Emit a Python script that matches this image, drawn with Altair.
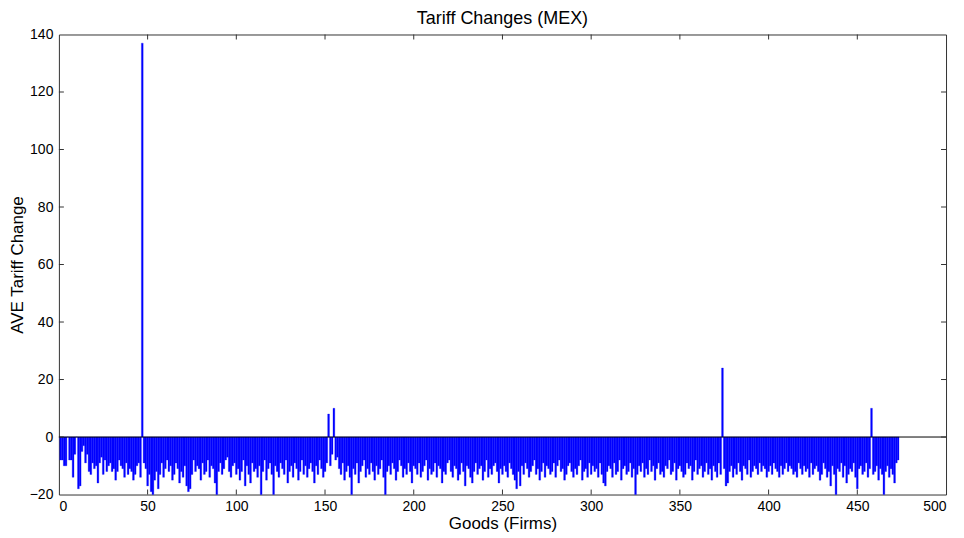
import altair as alt
import pandas as pd

changes = [
    -8, -8, -10, -10, 0, -8, -8, -14, -6, 0, -18, -17, -5, -3, -9, -6, -12, -13, -9, -11, -10, -16, -9, -7, -13,
    -8, -12, -10, -9, -12, -11, -15, -12, -8, -10, -11, -14, -9, -13, -11, -12, -15, -13, -10, -9, -14, 137, -9, -11, -17,
    -13, -19, -20, -15, -12, -18, -13, -9, -14, -11, -8, -12, -10, -15, -13, -9, -11, -16, -12, -14, -10, -17, -19, -18, -13,
    -8, -12, -10, -11, -15, -9, -13, -12, -8, -14, -10, -11, -16, -20, -12, -9, -13, -11, -8, -7, -12, -14, -10, -9, -13,
    -11, -15, -12, -8, -17, -10, -13, -16, -9, -12, -11, -14, -10, -20, -12, -8, -15, -11, -9, -13, -20, -10, -12, -14, -9,
    -11, -13, -8, -16, -12, -10, -14, -9, -11, -15, -12, -8, -13, -10, -14, -11, -9, -12, -16, -10, -13, -8, -11, -14, -12,
    -9, 8, -10, -6, 10, -8, -7, -11, -13, -9, -15, -12, -10, -14, -20, -11, -13, -9, -16, -12, -10, -8, -14, -11, -13,
    -9, -12, -15, -10, -13, -11, -8, -14, -20, -12, -10, -13, -9, -11, -15, -12, -8, -10, -14, -11, -13, -9, -12, -16, -10,
    -11, -13, -9, -14, -12, -10, -8, -15, -11, -13, -12, -9, -14, -10, -11, -16, -12, -13, -9, -8, -12, -14, -10, -11, -15,
    -13, -9, -12, -17, -10, -11, -14, -16, -12, -9, -13, -11, -10, -15, -12, -8, -14, -11, -13, -10, -9, -12, -16, -11, -13,
    -10, -12, -14, -9, -11, -13, -15, -18, -12, -17, -10, -13, -9, -11, -14, -12, -10, -8, -13, -11, -15, -12, -9, -14, -10,
    -11, -13, -12, -9, -14, -10, -8, -12, -11, -15, -13, -10, -9, -12, -14, -11, -13, -10, -8, -15, -12, -11, -14, -9, -13,
    -10, -12, -11, -14, -9, -13, -16, -17, -12, -10, -11, -14, -9, -13, -12, -8, -15, -11, -10, -13, -12, -9, -14, -11, -20,
    -13, -10, -12, -9, -14, -11, -13, -8, -12, -10, -15, -11, -9, -13, -12, -14, -10, -11, -8, -13, -12, -9, -15, -11, -10,
    -12, -14, -13, -9, -11, -10, -15, -12, -8, -13, -11, -10, -14, -12, -9, -13, -11, -15, -10, -12, -14, -9, -13, 24, -11,
    -17, -16, -12, -10, -14, -11, -13, -9, -12, -15, -10, -11, -13, -8, -14, -12, -10, -11, -13, -9, -12, -10, -11, -14, -12,
    -10, -13, -9, -11, -12, -14, -10, -13, -11, -9, -12, -10, -11, -13, -12, -14, -9, -11, -13, -10, -12, -11, -14, -9, -13,
    -11, -10, -12, -15, -13, -9, -11, -14, -12, -17, -10, -13, -20, -11, -12, -9, -14, -10, -16, -13, -11, -12, -9, -14, -18,
    -11, -10, -13, -12, -9, -14, -11, 10, -13, -12, -10, -15, -11, -13, -20, -12, -10, -14, -11, -13, -16, -9, -8,
]
goods = list(range(1, len(changes) + 1))
x_ticks = [0, 50, 100, 150, 200, 250, 300, 350, 400, 450, 500]
y_ticks = [-20, 0, 20, 40, 60, 80, 100, 120, 140]

W, H = 889, 461
FONT = "Liberation Sans"

df = pd.DataFrame({"good": goods, "change": changes})
xs = alt.Scale(domain=[0, 500], nice=False, zero=False)
ys = alt.Scale(domain=[-20, 140], nice=False, zero=False)

x_axis = alt.Axis(
    values=x_ticks, ticks=False, grid=False, domain=False, format="d",
    labelFontSize=14, labelPadding=5, labelColor="black", labelFont=FONT,
    title="Goods (Firms)", titleFontSize=17, titleFontWeight="normal",
    titleFont=FONT, titleColor="black", titlePadding=2)
y_axis = alt.Axis(
    values=y_ticks, ticks=False, grid=False, domain=False, format="d",
    labelFontSize=14, labelPadding=6, labelColor="black", labelFont=FONT,
    title="AVE Tariff Change", titleFontSize=17, titleFontWeight="normal",
    titleFont=FONT, titleColor="black", titlePadding=3)

bars = alt.Chart(df).transform_calculate(
    x0="datum.good - 0.5", x1="datum.good + 0.5"
).mark_bar(color="#0000ff", stroke="#0000ff", strokeWidth=0.3).encode(
    x=alt.X("x0:Q", scale=xs, axis=x_axis, title="Goods (Firms)"),
    x2="x1:Q",
    y=alt.Y("change:Q", scale=ys, axis=y_axis, title="AVE Tariff Change"),
    y2=alt.datum(0),
)

zero = alt.Chart(pd.DataFrame({"z": [0]})).mark_rule(color="black", strokeWidth=1).encode(
    y=alt.Y("z:Q", scale=ys, axis=y_axis, title="AVE Tariff Change")
)

xt = pd.DataFrame({"t": x_ticks[1:-1]})
yt = pd.DataFrame({"t": y_ticks[1:-1]})
tick_col = "#333333"
bt = alt.Chart(xt).mark_rule(color=tick_col).encode(
    x=alt.X("t:Q", scale=xs, axis=x_axis, title="Goods (Firms)"), y=alt.value(H), y2=alt.value(H - 5))
tt = alt.Chart(xt).mark_rule(color=tick_col).encode(
    x=alt.X("t:Q", scale=xs, axis=x_axis, title="Goods (Firms)"), y=alt.value(0), y2=alt.value(5))
lt = alt.Chart(yt).mark_rule(color=tick_col).encode(
    y=alt.Y("t:Q", scale=ys, axis=y_axis, title="AVE Tariff Change"), x=alt.value(0), x2=alt.value(5))
rt = alt.Chart(yt).mark_rule(color=tick_col).encode(
    y=alt.Y("t:Q", scale=ys, axis=y_axis, title="AVE Tariff Change"), x=alt.value(W), x2=alt.value(W - 5))

chart = alt.layer(bars, zero, bt, tt, lt, rt).properties(
    width=W, height=H,
    title=alt.Title("Tariff Changes (MEX)", fontSize=18, fontWeight="normal",
                    font=FONT, color="black", offset=0),
    autosize=alt.AutoSizeParams(type="none"),
    padding={"left": 51, "top": 26, "right": 10, "bottom": 40},
).configure_view(stroke="#333333", strokeWidth=1)

chart.save("out.html", embed_options={"renderer": "svg", "actions": False})
